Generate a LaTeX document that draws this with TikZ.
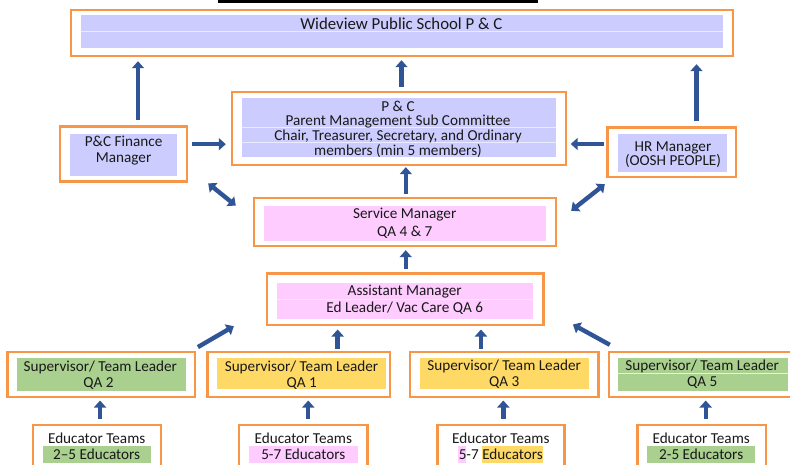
\documentclass[tikz,border=0pt]{standalone}
\usepackage{fontspec}
\setmainfont{Carlito}
\usetikzlibrary{arrows.meta}
\definecolor{obord}{HTML}{F79646}
\definecolor{lav}{HTML}{CCCCFF}
\definecolor{pnk}{HTML}{FFCCFF}
\definecolor{yel}{HTML}{FFD966}
\definecolor{grn}{HTML}{A9D08E}
\definecolor{ablue}{HTML}{2F5597}
\begin{document}
\begin{tikzpicture}[x=1pt,y=-1pt,
  obox/.style={draw=obord, line width=2.4pt, fill=white, inner sep=0pt},
  fbox/.style={fill=#1, draw=none, inner sep=0pt},
  txt/.style={font=\fontsize{15.2}{18}\selectfont, inner sep=0pt, anchor=base, text=black!90},
  ttl/.style={font=\fontsize{16.8}{19}\selectfont, inner sep=0pt, anchor=base, text=black!90},
  arr/.style={draw=ablue, line width=4.4pt, -{Triangle[length=7pt,width=12pt]}},
  darr/.style={draw=ablue, line width=4.4pt, {Triangle[length=7pt,width=12pt]}-{Triangle[length=7pt,width=12pt]}},
  sep/.style={draw=white!60!lav, line width=0.6pt}]
\useasboundingbox (0,0) rectangle (790,465);
\clip (0,0) rectangle (790,465);
\fill[black] (217.7,-2) rectangle (538,3);

% ---------- boxes ----------
\node[obox, minimum width=662pt, minimum height=46pt] (top) at (402,33) {};
\node[fbox=lav, minimum width=641.5pt, minimum height=32.7pt] (topin) at (401.75,31.65) {};
\draw[sep] (81,31.7) -- (722.5,31.7);
\node[ttl] (ttop) at (401.3,29.5) {Wideview Public School P \& C};

\node[obox, minimum width=334pt, minimum height=73pt] (pc) at (399,128.5) {};
\node[fbox=lav, minimum width=314.5pt, minimum height=59.3pt] (pcin) at (398.75,127.35) {};
\draw[sep] (241.5,127.8) -- (556,127.8);
\draw[sep] (241.5,142.8) -- (556,142.8);
\node[txt] (tpc1) at (398,111.5) {P \& C};
\node[txt] (tpc2) at (398,126) {Parent Management Sub Committee};
\node[txt] (tpc3) at (398,141) {Chair, Treasurer, Secretary, and Ordinary};
\node[txt] (tpc4) at (398,155.5) {members (min 5 members)};

\node[obox, minimum width=127pt, minimum height=55pt] (fin) at (123.5,154.2) {};
\node[fbox=lav, minimum width=107pt, minimum height=41.7pt] (finin) at (123.5,154.85) {};
\node[txt] (tfin1) at (123.6,146.7) {P\&C Finance};
\node[txt] (tfin2) at (123.6,162.3) {Manager};

\node[obox, minimum width=128.4pt, minimum height=49.6pt] (hr) at (671.8,152.5) {};
\node[fbox=lav, minimum width=108.5pt, minimum height=38pt] (hrin) at (672.25,153.3) {};
\node[txt] (thr1) at (673,151.7) {HR Manager};
\node[txt] (thr2) at (673,166) {(OOSH PEOPLE)};

\node[obox, minimum width=301.7pt, minimum height=47.7pt] (svc) at (404.85,222.15) {};
\node[fbox=pnk, minimum width=281.7pt, minimum height=35pt] (svcin) at (404.85,223.5) {};
\node[txt] (tsvc1) at (404.7,219) {Service Manager};
\node[txt] (tsvc2) at (404.7,236.7) {QA 4 \& 7};

\node[obox, minimum width=276.6pt, minimum height=51.7pt] (asst) at (405,299.15) {};
\node[fbox=pnk, minimum width=256.6pt, minimum height=36pt] (asstin) at (405,301.3) {};
\draw[sep] (276.7,299) -- (533.3,299);
\node[txt] (tas1) at (404.7,295.7) {Assistant Manager};
\node[txt] (tas2) at (404.7,312) {Ed Leader/ Vac Care QA 6};

% supervisors
\node[obox, minimum width=187.7pt, minimum height=45pt] (s1) at (101.15,374.2) {};
\node[fbox=grn, minimum width=168.4pt, minimum height=32.7pt] (s1in) at (101.5,374.65) {};
\node[txt] (ts1a) at (100.3,371) {Supervisor/ Team Leader};
\node[txt] (ts1b) at (98.5,387.3) {QA 2};

\node[obox, minimum width=182.7pt, minimum height=45pt] (s2) at (298.65,374.2) {};
\node[fbox=yel, minimum width=168.4pt, minimum height=31.6pt] (s2in) at (301.5,373.5) {};
\node[txt] (ts2a) at (301.5,371) {Supervisor/ Team Leader};
\node[txt] (ts2b) at (301.7,387.3) {QA 1};

\node[obox, minimum width=188.3pt, minimum height=45pt] (s3) at (504.15,374.2) {};
\node[fbox=yel, minimum width=169pt, minimum height=31.6pt] (s3in) at (504.5,373.5) {};
\node[txt] (ts3a) at (504.2,370.5) {Supervisor/ Team Leader};
\node[txt] (ts3b) at (504.2,386.7) {QA 3};

\node[obox, minimum width=186pt, minimum height=45pt] (s4) at (702,374.2) {};
\node[fbox=grn, minimum width=169.4pt, minimum height=32.7pt] (s4in) at (703,374.65) {};
\draw[sep] (618.3,373.3) -- (787.7,373.3);
\node[txt] (ts4a) at (702.2,370.5) {Supervisor/ Team Leader};
\node[txt] (ts4b) at (702.2,386.7) {QA 5};

% educator teams
\node[obox, minimum width=128.3pt, minimum height=55pt] (e1) at (96.85,452.5) {};
\node[fbox=grn, minimum width=108.3pt, minimum height=16.7pt] (e1in) at (96.85,454.35) {};
\node[txt] (te1a) at (96.7,443.3) {Educator Teams};
\node[txt] (te1b) at (96.7,459.7) {2--5 Educators};

\node[obox, minimum width=128.3pt, minimum height=55pt] (e2) at (303.15,452.5) {};
\node[fbox=pnk, minimum width=108.7pt, minimum height=16.7pt] (e2in) at (303.35,454.35) {};
\node[txt] (te2a) at (303.3,443.3) {Educator Teams};
\node[txt] (te2b) at (303.3,459.7) {5-7 Educators};

\node[obox, minimum width=127pt, minimum height=55pt] (e3) at (500.8,452.5) {};
\node[fbox=pnk, minimum width=8pt, minimum height=16.7pt] (e3p) at (461.7,454.35) {};
\node[fbox=yel, minimum width=61.3pt, minimum height=16.7pt] (e3y) at (512.65,454.35) {};
\node[txt] (te3a) at (500.8,443.3) {Educator Teams};
\node[txt] (te3b) at (500.8,459.7) {5-7 Educators};

\node[obox, minimum width=128.4pt, minimum height=55pt] (e4) at (701.5,452.5) {};
\node[fbox=grn, minimum width=107.7pt, minimum height=16.7pt] (e4in) at (701.15,454.35) {};
\node[txt] (te4a) at (701.2,443.3) {Educator Teams};
\node[txt] (te4b) at (701.2,459.7) {2-5 Educators};

% ---------- connectors ----------
\coordinate (c1) at ([xshift=14.5pt,yshift=5.5pt]fin.north);
\draw[arr, shorten >=4pt] (c1) -- (c1 |- top.south);
\coordinate (c2) at ([xshift=2.5pt,yshift=4pt]pc.north);
\draw[arr, shorten >=3pt] (c2) -- (c2 |- top.south);
\coordinate (c3) at ([xshift=24.7pt,yshift=5pt]hr.north);
\draw[arr, shorten >=7pt] (c3) -- (c3 |- top.south);

\coordinate (c4) at ([xshift=4pt,yshift=10pt]fin.east);
\draw[arr, shorten >=5pt] (c4) -- (c4 -| pc.west);
\coordinate (c5) at ([xshift=-2.6pt,yshift=8.5pt]hr.west);
\draw[arr, shorten >=3.5pt] (c5) -- (c5 -| pc.east);

\coordinate (c6) at ([xshift=1pt,yshift=3.3pt]svc.north);
\draw[arr, shorten >=1pt] (c6) -- (c6 |- pc.south);

\draw[darr] ([xshift=20pt,yshift=-0.5pt]fin.south east) -- ([xshift=-17pt,yshift=-8.5pt]svc.north west);
\draw[darr] ([xshift=-1.6pt,yshift=-5.7pt]hr.south west) -- ([xshift=14.3pt,yshift=-13.7pt]svc.north east);

\coordinate (c7) at ([xshift=0.7pt,yshift=3.3pt]asst.north);
\draw[arr, shorten >=3pt] (c7) -- (c7 |- svc.south);

\draw[arr] ([xshift=1.7pt,yshift=3.4pt]s1.north east) -- ([xshift=-31.7pt]asst.south west);
\coordinate (c8) at ([xshift=39pt,yshift=1.7pt]s2.north);
\draw[arr, shorten >=3.3pt] (c8) -- (c8 |- asst.south);
\coordinate (c9) at ([xshift=-23.2pt,yshift=1.7pt]s3.north);
\draw[arr, shorten >=3.3pt] (c9) -- (c9 |- asst.south);
\draw[arr] ([xshift=2pt,yshift=5.7pt]s4.north west) -- ([xshift=28.4pt,yshift=1.7pt]asst.south east);

\coordinate (d1) at ([xshift=3.2pt,yshift=5pt]e1.north);
\draw[arr, shorten >=2.6pt] (d1) -- (d1 |- s1.south);
\coordinate (d2) at ([xshift=5.1pt,yshift=5pt]e2.north);
\draw[arr, shorten >=2.6pt] (d2) -- (d2 |- s2.south);
\coordinate (d3) at ([xshift=2.5pt,yshift=5pt]e3.north);
\draw[arr, shorten >=2.6pt] (d3) -- (d3 |- s3.south);
\coordinate (d4) at ([xshift=4.2pt,yshift=5pt]e4.north);
\draw[arr, shorten >=2.6pt] (d4) -- (d4 |- s4.south);
\end{tikzpicture}
\end{document}
